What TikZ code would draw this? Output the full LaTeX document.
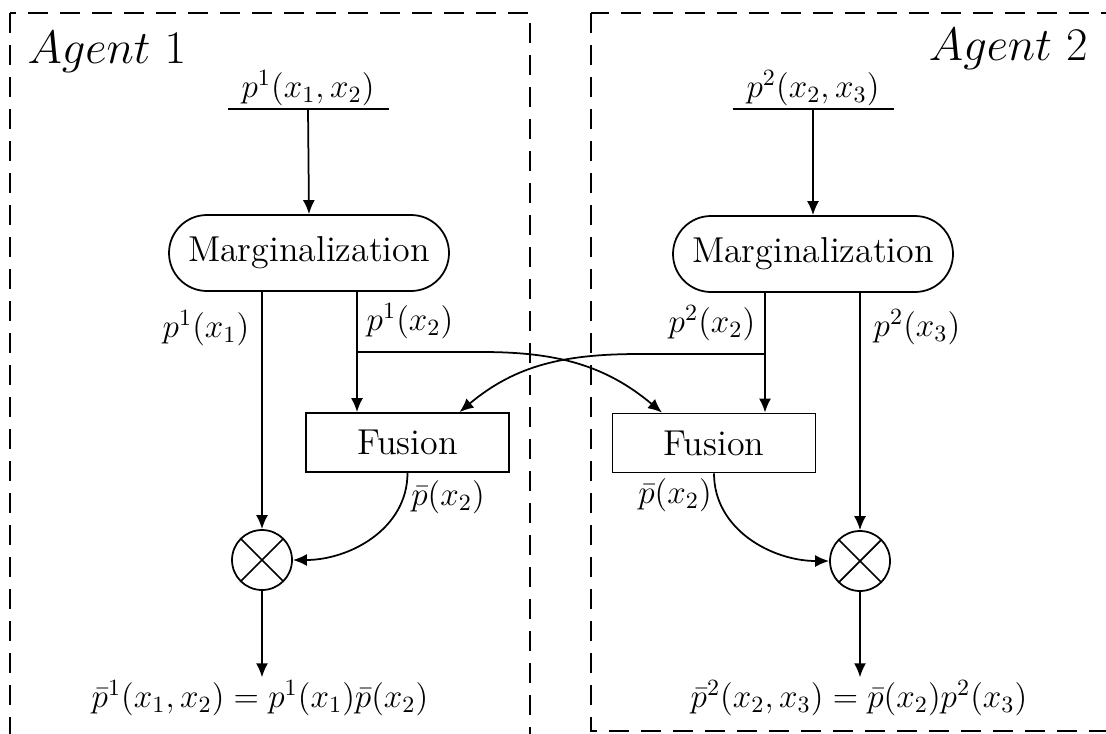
\RequirePackage{fix-cm}
\documentclass[tikz,border=0pt]{standalone}
\usepackage{amsmath}
\usepackage{tikz}
\usetikzlibrary{arrows.meta,calc}

\begin{document}
\begin{tikzpicture}[x=0.4pt, y=-0.4pt,
  margbox/.style={draw, line width=0.7pt, rounded corners=15.2pt, minimum width=112pt,
                  minimum height=30.4pt, font=\Large},
  fusbox/.style={draw, line width=0.7pt, minimum width=81.2pt, minimum height=23.6pt, font=\Large},
  mult/.style={draw, circle, line width=0.7pt, minimum size=24pt, inner sep=0pt,
    path picture={
      \draw[line width=0.7pt] ([shift={(45:12pt)}]path picture bounding box.center)
        -- ([shift={(225:12pt)}]path picture bounding box.center);
      \draw[line width=0.7pt] ([shift={(135:12pt)}]path picture bounding box.center)
        -- ([shift={(315:12pt)}]path picture bounding box.center);}},
  lbl/.style={font=\fontsize{13.3}{16}\selectfont, inner sep=1pt},
  agent/.style={font=\fontsize{18.7}{22}\selectfont, inner sep=0pt},
  arr/.style={-{Latex[length=5.6pt,width=4.8pt]}, line width=0.7pt},
  wire/.style={line width=0.7pt},
  agentbox/.style={line width=0.7pt, dash pattern=on 8pt off 4.8pt}
]
\useasboundingbox (0,0) rectangle (1106,733);
\clip (0,0) rectangle (1106,733);

% Agent frames
\draw[agentbox] (10,13) rectangle (530,760);
\draw[agentbox] (591,13) rectangle (1130,731);
\node[agent, anchor=base west] (ag1) at (27,63) {$Agent~1$};
\node[agent, anchor=base east] (ag2) at (1088,60) {$Agent~2$};

% Left: Agent 1
\node[lbl, anchor=south, minimum width=64pt] (src1) at (308,109) {$p^1(x_1,x_2)$};
\draw[wire] (src1.south west) -- (src1.south east);
\node[margbox] (marg1) at (309,253) {Marginalization};
\node[fusbox] (fus1) at (407.5,442.5) {Fusion};
\node[mult] (mul1) at (262,560) {};
\node[lbl] (out1) at (260,698) {$\bar{p}^1(x_1,x_2)=p^1(x_1)\bar{p}(x_2)$};
\coordinate (tap1) at (357,352);

\node[lbl] (l11) at (206,328) {$p^1(x_1)$};
\node[lbl] (l12) at (410,321) {$p^1(x_2)$};
\node[lbl] (lf1) at (448,497) {$\bar{p}(x_2)$};

% Right: Agent 2
\node[lbl, anchor=south, minimum width=64pt] (src2) at (813,109) {$p^2(x_2,x_3)$};
\draw[wire] (src2.south west) -- (src2.south east);
\node[margbox] (marg2) at (813,254) {Marginalization};
\node[fusbox] (fus2) at (714,443) {Fusion};
\node[mult] (mul2) at (860,561) {};
\node[lbl] (out2) at (859,698) {$\bar{p}^2(x_2,x_3)=\bar{p}(x_2)p^2(x_3)$};
\coordinate (tap2) at (765,354);

\node[lbl] (l22) at (712,323) {$p^2(x_2)$};
\node[lbl] (l23) at (917,327) {$p^2(x_3)$};
\node[lbl] (lf2) at (675,495) {$\bar{p}(x_2)$};

% Agent 1 flow
\draw[arr] (src1.south) -- (marg1.north);
\draw[arr] (marg1.south -| mul1) -- (mul1.north);
\draw[arr] (marg1.south -| tap1) -- (fus1.north -| tap1);
\draw[arr] (fus1.south) to[out=-90, in=0] (mul1.east);
\draw[arr] (mul1.south) -- (mul1.south |- out1.north);

% Agent 2 flow
\draw[arr] (src2.south) -- (marg2.north);
\draw[arr] (marg2.south -| mul2) -- (mul2.north);
\draw[arr] (marg2.south -| tap2) -- (fus2.north -| tap2);
\draw[arr] (fus2.south) to[out=-90, in=180] (mul2.west);
\draw[arr] (mul2.south) -- (mul2.south |- out2.north);

% Exchange of marginals
\draw[arr] (tap1) -- ++(125,0) to[out=0, in=140] ($(fus2.north)+(-52,0)$);
\draw[arr] (tap2) -- ++(-125,0) to[out=180, in=40] ($(fus1.north)+(52,0)$);

\end{tikzpicture}
\end{document}
